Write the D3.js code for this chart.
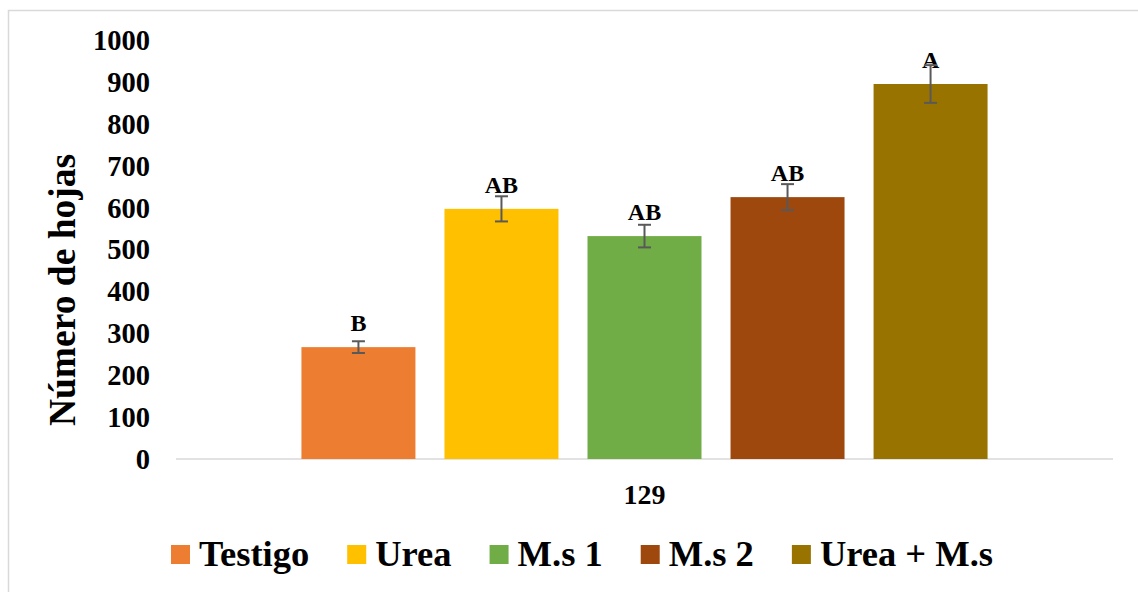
<!DOCTYPE html>
<html>
<head>
<meta charset="utf-8">
<script src="https://cdn.jsdelivr.net/npm/d3@7"></script>
<style>
  html, body { margin: 0; padding: 0; background: #fff; }
  svg { display: block; }
  text { font-family: "Liberation Serif", "Times New Roman", serif; font-weight: bold; fill: #000; }
</style>
</head>
<body>
<svg id="chart" width="1138" height="592"></svg>
<script>
const categories = ["129"];
const series = ["Testigo", "Urea", "M.s 1", "M.s 2", "Urea + M.s"];
const values = [267, 597, 532, 625, 895];
const errors = [14, 30, 27, 31, 45];
const letters = ["B", "AB", "AB", "AB", "A"];
const colors = ["#ED7D31", "#FFC000", "#70AD47", "#9E480E", "#997300"];
const yTicks = [0, 100, 200, 300, 400, 500, 600, 700, 800, 900, 1000];
const yTitle = "Número de hojas";

const svg = d3.select("#chart");

// frame
svg.append("path")
  .attr("d", "M8.5,592 L8.5,10.5 L1138,10.5")
  .attr("fill", "none").attr("stroke", "#d9d9d9").attr("stroke-width", 1.5);

const plotLeft = 176, plotRight = 1113, plotTop = 40, plotBottom = 459;

const y = d3.scaleLinear().domain([0, 1000]).range([plotBottom, plotTop]);
const x0 = d3.scaleBand().domain(categories).range([plotLeft, plotRight]);
const x1 = d3.scaleBand().domain(series).range([0, x0.bandwidth()])
  .paddingInner(0.203).paddingOuter(0.877);

// y axis (labels only)
const yAxis = d3.axisLeft(y).tickValues(yTicks).tickSize(0).tickPadding(0).tickFormat(d3.format("d"));
const gy = svg.append("g").attr("transform", `translate(150,0)`).call(yAxis)
  .attr("font-family", null).attr("font-size", null);
gy.select(".domain").remove();
gy.selectAll("text").style("font-size", "28.5px").style("font-family", '"Liberation Serif", serif')
  .style("font-weight", "bold").attr("fill", "#000").attr("dy", "0.33em");

// baseline
svg.append("line").attr("x1", plotLeft).attr("x2", plotRight)
  .attr("y1", y(0)).attr("y2", y(0)).attr("stroke", "#d9d9d9").attr("stroke-width", 1.5);

// x axis label
const xAxis = d3.axisBottom(x0).tickSize(0).tickPadding(0);
const gx = svg.append("g").attr("transform", `translate(0,${y(0)})`).call(xAxis)
  .attr("font-family", null).attr("font-size", null);
gx.select(".domain").remove();
gx.selectAll("text").style("font-size", "28px").style("font-family", '"Liberation Serif", serif')
  .style("font-weight", "bold").attr("fill", "#000").attr("y", 45).attr("dy", 0);

const data = series.map((s, i) => ({ s, v: values[i], e: errors[i], l: letters[i], c: colors[i], cat: categories[0] }));

const g = svg.append("g");
g.selectAll("rect.bar").data(data).enter().append("rect")
  .attr("class", "bar")
  .attr("x", d => x0(d.cat) + x1(d.s))
  .attr("y", d => y(d.v))
  .attr("width", x1.bandwidth())
  .attr("height", d => y(0) - y(d.v))
  .attr("fill", d => d.c);

// letters
g.selectAll("text.lab").data(data).enter().append("text")
  .attr("class", "lab")
  .attr("x", d => x0(d.cat) + x1(d.s) + x1.bandwidth() / 2)
  .attr("y", d => y(d.v) - 16)
  .attr("text-anchor", "middle")
  .style("font-size", "24px")
  .text(d => d.l);

// error bars
const eb = g.selectAll("g.err").data(data).enter().append("g").attr("class", "err")
  .attr("stroke", "#595959").attr("stroke-width", 2);
eb.append("line")
  .attr("x1", d => x0(d.cat) + x1(d.s) + x1.bandwidth() / 2)
  .attr("x2", d => x0(d.cat) + x1(d.s) + x1.bandwidth() / 2)
  .attr("y1", d => y(d.v + d.e)).attr("y2", d => y(d.v - d.e));
[1, -1].forEach(sg => {
  eb.append("line")
    .attr("x1", d => x0(d.cat) + x1(d.s) + x1.bandwidth() / 2 - 6.5)
    .attr("x2", d => x0(d.cat) + x1(d.s) + x1.bandwidth() / 2 + 6.5)
    .attr("y1", d => y(d.v + sg * d.e)).attr("y2", d => y(d.v + sg * d.e));
});

// y title
svg.append("text")
  .attr("transform", `translate(75,290) rotate(-90)`)
  .attr("text-anchor", "middle")
  .style("font-size", "37.5px")
  .text(yTitle);

// legend
const legend = svg.append("g");
let lx = 171;
series.forEach((s, i) => {
  const item = legend.append("g");
  item.append("rect").attr("x", lx).attr("y", 545).attr("width", 19).attr("height", 19).attr("fill", colors[i]);
  const t = item.append("text").attr("x", lx + 28).attr("y", 566).style("font-size", "36.5px").text(s);
  const w = t.node().getComputedTextLength();
  lx = lx + 28 + w + 38;
});
</script>
</body>
</html>
